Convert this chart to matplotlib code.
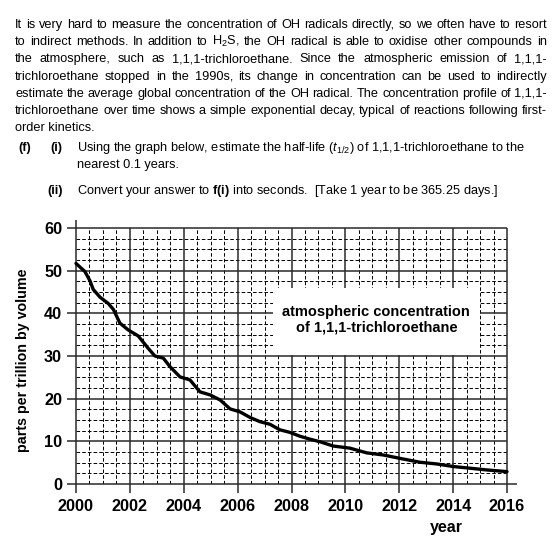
import numpy as np
import matplotlib
matplotlib.use("Agg")
import matplotlib.pyplot as plt
from matplotlib.patches import Rectangle

plt.rcParams['font.family'] = ['Liberation Sans', 'DejaVu Sans']
plt.rcParams['mathtext.fontset'] = 'custom'
plt.rcParams['mathtext.rm'] = 'Liberation Sans'
plt.rcParams['mathtext.it'] = 'Liberation Sans:italic'
plt.rcParams['mathtext.bf'] = 'Liberation Sans:bold'
plt.rcParams['lines.scale_dashes'] = False

# ---------------- data ----------------
years = [2000.0, 2000.33, 2000.52, 2000.64, 2000.89, 2001.2, 2001.39, 2001.63,
         2001.94, 2002.31, 2002.68, 2002.93, 2003.24, 2003.49, 2003.86, 2004.23,
         2004.6, 2004.97, 2005.35, 2005.72, 2006.09, 2006.46, 2006.83, 2007.2,
         2007.57, 2007.94, 2008.31, 2008.69, 2009.06, 2009.55, 2010.17, 2010.79,
         2011.41, 2012.03, 2012.77, 2013.39, 2014.0, 2014.63, 2015.24, 2016.0]
values = [51.7, 49.8, 47.6, 45.6, 43.8, 42.3, 40.9, 37.7,
          36.1, 34.7, 31.8, 30.0, 29.5, 27.5, 25.1, 24.4,
          21.6, 20.9, 19.7, 17.6, 16.9, 15.6, 14.6, 14.0,
          12.7, 12.1, 11.2, 10.5, 9.9, 8.9, 8.4, 7.3,
          6.8, 6.0, 5.1, 4.7, 4.1, 3.7, 3.3, 2.9]
x_ticks = [2000, 2002, 2004, 2006, 2008, 2010, 2012, 2014, 2016]
y_ticks = [0, 10, 20, 30, 40, 50, 60]
xlabel = "year"
ylabel = "parts per trillion by volume"
annotation = "atmospheric concentration\nof 1,1,1-trichloroethane"

justified_lines = [
    "It is very hard to measure the concentration of OH radicals directly, so we often have to resort",
    "to indirect methods.  In addition to H$_2$S, the OH radical is able to oxidise other compounds in",
    "the atmosphere, such as 1,1,1-trichloroethane. Since the atmospheric emission of 1,1,1-",
    "trichloroethane  stopped in the 1990s, its change in concentration can be used to indirectly",
    "estimate the average global concentration of the OH radical. The concentration profile of 1,1,1-",
    "trichloroethane over time shows a simple exponential decay, typical of reactions following first-",
]
last_line = "order kinetics."

W, H = 557, 543
fig = plt.figure(figsize=(W / 100, H / 100), dpi=100)
renderer = fig.canvas.get_renderer()

def fx(x):
    return x / W

def fy(y):
    return 1 - y / H

BODY = 9.2
LEFT, RIGHT = 15, 547
baselines = [28, 45.2, 62.4, 79.6, 96.8, 114.0]

for line, yb in zip(justified_lines, baselines):
    words = line.split()
    texts = [fig.text(0, fy(yb), w, fontsize=BODY, va='baseline', ha='left') for w in words]
    widths = [t.get_window_extent(renderer).width for t in texts]
    gap = (RIGHT - LEFT - sum(widths)) / (len(words) - 1)
    x = LEFT
    for t, w in zip(texts, widths):
        t.set_x(fx(x))
        x += w + gap

fig.text(fx(LEFT), fy(131.2), last_line, fontsize=BODY, va='baseline', ha='left')

fig.text(fx(18), fy(150.5), "(f)", fontsize=BODY, fontweight='bold', va='baseline')
fig.text(fx(50), fy(150.5), "(i)", fontsize=BODY, fontweight='bold', va='baseline')
fig.text(fx(77), fy(150.5),
         r"Using the graph below, estimate the half-life ($t_{1/2}$) of 1,1,1-trichloroethane to the",
         fontsize=BODY, va='baseline')
fig.text(fx(77), fy(167.7), "nearest 0.1 years.", fontsize=BODY, va='baseline')
fig.text(fx(47), fy(194.3), "(ii)", fontsize=BODY, fontweight='bold', va='baseline')
fig.text(fx(77), fy(194.3),
         r"Convert your answer to $\mathbf{f(i)}$ into seconds.  [Take 1 year to be 365.25 days.]",
         fontsize=BODY, va='baseline')

# ---------------- chart ----------------
ax = fig.add_axes([fx(76), fy(484), (507 - 76) / W, (484 - 228) / H])
ax.set_xlim(2000, 2016)
ax.set_ylim(0, 60)
for s in ax.spines.values():
    s.set_visible(False)
ax.patch.set_alpha(0)

major_c = '#2a2a2a'
minor_kw = dict(colors='black', linewidth=0.7, linestyles=(0, (2.6, 1.5)), zorder=1)

minor_x = [v for v in np.arange(2000.5, 2016, 0.5) if v % 2 != 0]
ax.vlines(minor_x, 0, 60, **minor_kw)
minor_y = [v for v in np.arange(2.5, 60, 2.5) if v % 10 != 0]
ax.hlines(minor_y, 2000, 2016, **minor_kw)

for xv in x_ticks:
    top = 61.9 if xv == 2000 else 60
    ax.vlines(xv, -2.1, top, colors=major_c, linewidth=1.1, zorder=2, clip_on=False)
for yv in y_ticks:
    right = 2016.37 if yv == 0 else 2016
    ax.hlines(yv, 1999.67, right, colors=major_c, linewidth=1.1, zorder=2, clip_on=False)

ax.add_patch(Rectangle((2007.3, 30.2), 7.7, 15.7, facecolor='white',
                       edgecolor='none', zorder=3))
ax.text(2011.15, 38.5, annotation, ha='center', va='center', fontsize=10.5,
        fontweight='bold', linespacing=1.15, zorder=4)

ax.plot(years, values, color='black', linewidth=2.4, solid_capstyle='round',
        solid_joinstyle='round', zorder=5, clip_on=False)

ax.set_xticks(x_ticks)
ax.set_xticklabels([str(v) for v in x_ticks])
ax.set_yticks(y_ticks)
ax.set_yticklabels([str(v) for v in y_ticks])
ax.tick_params(axis='both', length=0, labelsize=11.7)
ax.tick_params(axis='x', pad=11)
ax.tick_params(axis='y', pad=10)
for lab in ax.get_xticklabels() + ax.get_yticklabels():
    lab.set_fontweight('bold')

fig.text(fx(23), fy(360), ylabel, rotation=90, ha='center', va='center',
         fontsize=10.3, fontweight='bold')
fig.text(fx(446), fy(532), xlabel, ha='center', va='baseline',
         fontsize=11.5, fontweight='bold')

fig.savefig("out.png", dpi=100)
